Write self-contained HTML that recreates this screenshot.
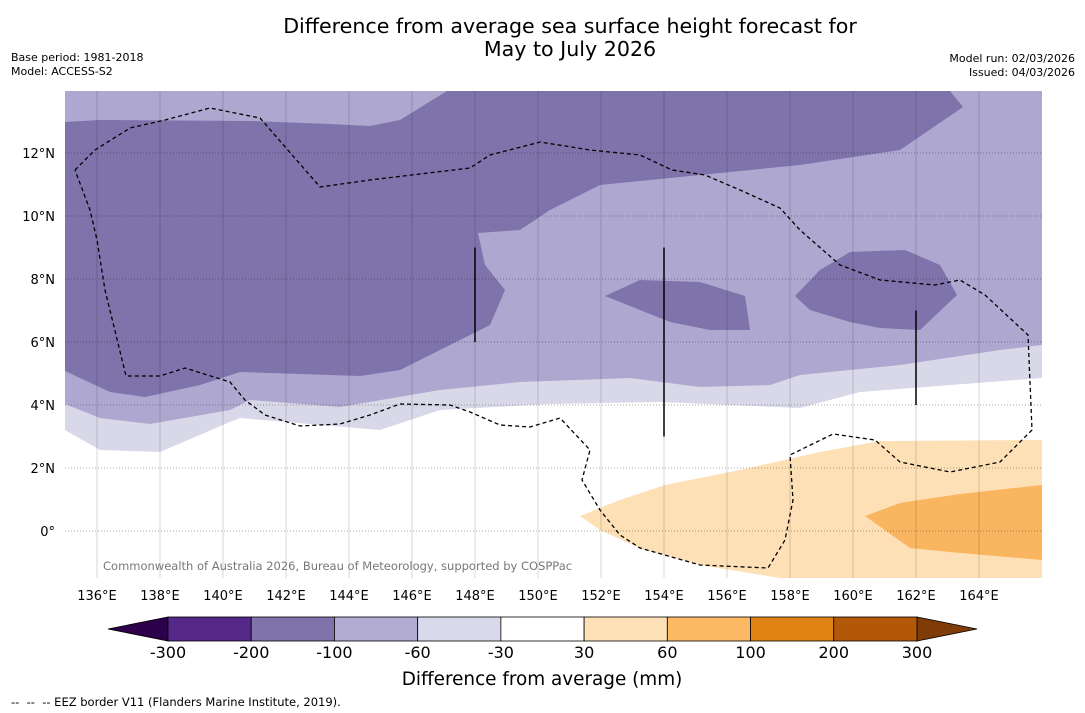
<!DOCTYPE html>
<html><head><meta charset="utf-8"><style>
body{margin:0;background:#fff;font-family:"DejaVu Sans","Liberation Sans",sans-serif}
#wrap{position:relative;width:1085px;height:713px;overflow:hidden}
.t{position:absolute;font-size:11px;color:#000}
svg text{font-family:"DejaVu Sans","Liberation Sans",sans-serif}
</style></head><body>
<div id="wrap">
<div style="position:absolute;left:0;width:1140px;top:15px;text-align:center;font-size:20.6px;line-height:23px">Difference from average sea surface height forecast for<br>May to July 2026</div>
<div class="t" style="left:11px;top:51px">Base period: 1981-2018</div>
<div class="t" style="left:11px;top:65px">Model: ACCESS-S2</div>
<div class="t" style="right:10px;top:52px;text-align:right">Model run: 02/03/2026</div>
<div class="t" style="right:10px;top:66px;text-align:right">Issued: 04/03/2026</div>
<div class="t" style="left:11px;top:695px;font-size:11.5px">-- &nbsp;-- &nbsp;-- EEZ border V11 (Flanders Marine Institute, 2019).</div>
<svg id="svg" width="1085" height="713" style="position:absolute;left:0;top:0"></svg>
</div>
<script>
const lonTicks=[136,138,140,142,144,146,148,150,152,154,156,158,160,162,164];
const latTicks=[0,2,4,6,8,10,12];
const cbLevels=[-300,-200,-100,-60,-30,30,60,100,200,300];
const cbColors=["#542788","#8073ac","#b2abd2","#d8daeb","#ffffff","#fee0b6","#fdb863","#e08214","#b35806"];
const cbLow="#2d004b", cbHigh="#7f3b08";
function L(x){return 135+(x-65.5)/31.5} function A(y){return (531-y)/31.5}
function P(arr){return arr.map(p=>[L(p[0]),A(p[1])]);}
const lightPoly=P([[65,91],[1042,91],[1042,378],[860,392],[800,408],[660,402],[550,404],[440,410],[380,430],[240,418],[230,422],[160,452],[100,450],[65,430]]);
const midPoly=P([[65,91],[1042,91],[1042,345],[1000,350],[900,365],[800,375],[770,385],[700,387],[630,378],[520,382],[440,390],[340,407],[250,400],[230,410],[150,424],[100,418],[65,404]]);
const darkPoly=P([[65,122],[100,120],[250,121],[330,124],[370,126],[400,120],[447,91],[950,91],[963,107],[900,150],[800,165],[700,175],[600,185],[550,210],[520,230],[478,233],[485,265],[505,290],[490,325],[460,340],[430,355],[400,370],[360,376],[300,374],[240,372],[200,385],[145,397],[110,392],[65,371]]);
const darkIsle1=P([[605,296],[640,280],[700,282],[745,296],[750,330],[710,330],[670,322],[640,310]]);
const darkIsle2=P([[795,296],[820,270],[850,252],[905,250],[940,265],[957,295],[920,330],[880,328],[850,322],[810,310]]);
const orangeLight=P([[580,516],[620,500],[665,485],[740,470],[820,452],[880,441],[1042,440],[1042,578],[780,578],[700,565],[640,548],[600,530]]);
const orangeMid=P([[865,516],[900,503],[960,494],[1042,485],[1042,560],[960,553],[910,548]]);
const eez=P([[75,170],[95,150],[130,128],[165,120],[210,108],[260,118],[320,187],[370,180],[470,168],[490,155],[540,142],[590,150],[640,155],[672,170],[705,175],[740,190],[780,208],[800,230],[840,265],[880,280],[935,285],[960,280],[985,295],[1028,335],[1032,430],[1000,462],[950,472],[900,462],[875,440],[833,434],[790,455],[793,500],[785,540],[768,568],[700,565],[640,548],[620,535],[600,510],[582,480],[590,450],[560,418],[530,427],[500,425],[470,412],[450,405],[400,404],[370,415],[340,424],[300,426],[265,415],[245,400],[230,382],[185,368],[160,376],[126,376],[105,290],[97,240],[90,210],[75,170]]);
const vlines=[[148,9,6],[154,9,3],[162,7,4]];
const X0=65,X1=1042,Y0=91,Y1=578;
const lonMin=135;
function xs(lon){return 65.5+(lon-lonMin)*31.5}
function ys(lat){return 531-lat*31.5}
const NS="http://www.w3.org/2000/svg", svg=document.getElementById('svg');
function el(t,a,par){const e=document.createElementNS(NS,t);for(const k in a)e.setAttribute(k,a[k]);(par||svg).appendChild(e);return e}
el('defs',{}).innerHTML='<clipPath id="c"><rect x="65" y="91" width="977" height="487"/></clipPath>';
const g=el('g',{'clip-path':'url(#c)'});


function polyG(pts,fill,name){const e=el('polygon',{points:pts.map(p=>xs(p[0]).toFixed(1)+','+ys(p[1]).toFixed(1)).join(' '),fill:fill},g);

}
polyG(lightPoly,"#d8d8e9","anomaly-minus30-to-minus60");
polyG(midPoly,"#aea7cf","anomaly-minus60-to-minus100");
polyG(darkPoly,"#7f73ab","anomaly-minus100-to-minus200");
polyG(darkIsle1,"#7f73ab","anomaly-patch-152e");
polyG(darkIsle2,"#7f73ab","anomaly-patch-160e");
polyG(orangeLight,"#fde0b5","anomaly-30-to-60");
polyG(orangeMid,"#f9b560","anomaly-60-to-100");
lonTicks.forEach(l=>{const e=el('line',{x1:xs(l),x2:xs(l),y1:Y0,y2:Y1,stroke:'#000','stroke-opacity':0.2,'stroke-width':0.8},g);


const t=el('text',{x:xs(l),y:600,'text-anchor':'middle','font-size':13});t.textContent=l+'°E';

});
latTicks.forEach(l=>{const e=el('line',{x1:X0,x2:X1,y1:ys(l),y2:ys(l),stroke:'#000','stroke-opacity':0.45,'stroke-width':0.8,'stroke-dasharray':'1,2'},g);


const t=el('text',{x:55,y:ys(l)+5,'text-anchor':'end','font-size':13});t.textContent=l===0?'0°':l+'°N';

});
const ez=el('polyline',{points:eez.map(p=>xs(p[0]).toFixed(1)+','+ys(p[1]).toFixed(1)).join(' '),fill:'none',stroke:'#000','stroke-width':1.3,'stroke-dasharray':'4,3'},g);


vlines.forEach(v=>{const e=el('line',{x1:xs(v[0]),x2:xs(v[0]),y1:ys(v[1]),y2:ys(v[2]),stroke:'#000','stroke-width':1.5},g);

});
const cp=el('text',{x:103,y:570,'font-size':11.5,fill:'#777'},g);cp.textContent='Commonwealth of Australia 2026, Bureau of Meteorology, supported by COSPPac';


const cbX0=168,cbX1=917,cbY=617,cbH=24,n=cbColors.length,w=(cbX1-cbX0)/n;
let e=el('polygon',{points:`108,${cbY+cbH/2} ${cbX0},${cbY} ${cbX0},${cbY+cbH}`,fill:cbLow,stroke:'#000','stroke-width':0.8});


e=el('polygon',{points:`977,${cbY+cbH/2} ${cbX1},${cbY} ${cbX1},${cbY+cbH}`,fill:cbHigh,stroke:'#000','stroke-width':0.8});


cbColors.forEach((c,i)=>{const r=el('rect',{x:cbX0+i*w,y:cbY,width:w,height:cbH,fill:c,stroke:'#000','stroke-width':0.8});

});
cbLevels.forEach((v,i)=>{const t=el('text',{x:cbX0+i*w,y:658,'text-anchor':'middle','font-size':16});t.textContent=v;

});
const ct=el('text',{x:542,y:685,'text-anchor':'middle','font-size':18.4});ct.textContent='Difference from average (mm)';


</script>
</body></html>
